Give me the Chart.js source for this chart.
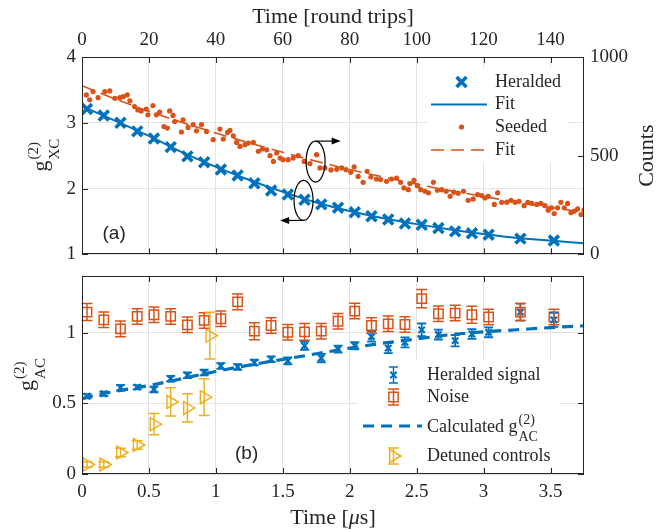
<!DOCTYPE html>
<html>
<head>
<meta charset="utf-8">
<title>g2 vs storage time</title>
<script src="https://cdn.jsdelivr.net/npm/chart.js@4.4.1/dist/chart.umd.min.js"></script>
<style>
  html, body { margin: 0; padding: 0; background: #ffffff; }
  #wrap { position: relative; width: 657px; height: 530px; }
  #wrap canvas { position: absolute; left: 0; }
</style>
</head>
<body>
<div id="wrap">
  <canvas id="panelA" width="657" height="265" style="top:0"></canvas>
  <canvas id="panelB" width="657" height="265" style="top:265px"></canvas>
</div>
<script>
// ---------- panel (a): heralded g2 and seeded counts vs round trips ----------
const heraldedRT = [1.5, 6.5, 11.5, 16.5, 21.5, 26.5, 31.5, 36.5, 41.5, 46.5, 51.5, 56.5, 61.5, 66.5,
  71.5, 76.5, 81.5, 86.5, 91.5, 96.5, 101.5, 106.5, 111.5, 116.5, 121.5, 131, 141];
const heraldedG2 = [3.21, 3.11, 3.00, 2.87, 2.76, 2.63, 2.49, 2.40, 2.29, 2.20, 2.08, 1.97, 1.91, 1.83,
  1.76, 1.71, 1.64, 1.58, 1.53, 1.47, 1.45, 1.40, 1.35, 1.32, 1.30, 1.24, 1.21];

const heraldedFitRT = [0, 10, 20, 30, 40, 50, 60, 70, 80, 90, 100, 110, 120, 130, 140, 150];
const heraldedFitG2 = [3.25, 3.03, 2.80, 2.55, 2.33, 2.13, 1.95, 1.79, 1.66, 1.55, 1.46, 1.38, 1.31, 1.25, 1.21, 1.17];

const seededRT = [1.3, 2.3, 3.3, 4.8, 6.8, 8.3, 9.8, 11.3, 12.3, 13.5, 14.3, 15.7, 16.7, 17.7, 19.2, 19.7,
  21.2, 22.2, 23.2, 24.5, 25.5, 26.2, 27.2, 27.7, 29.7, 30.2, 31.7, 33.2, 34.2, 35.7, 37.2, 39.2,
  41.2, 42.2, 43.5, 44.2, 45.2, 46.2, 47.2, 48.7, 49.7, 51.2, 52.7, 53.9, 55.2, 56.2, 57.2, 58.2,
  59.2, 60.1, 61.6, 63.1, 64.6, 66.4, 68.1, 70.1, 71.1, 72.6, 74.4, 76.1, 77.6, 78.9, 80.3, 81.3,
  82.5, 84, 85.2, 86.3, 88, 89.2, 91, 92.5, 94, 95.2, 96.2, 97.5, 98, 99.2, 100.2, 101.2, 102.5,
  103.5, 105, 106.2, 107.5, 108.8, 110, 111.1, 112.4, 114, 115.4, 116.9, 118.2, 119.4, 120.4, 121.4,
  123.2, 124.2, 125.4, 126.9, 128.2, 129.4, 130.6, 132.1, 133.2, 134.4, 135.9, 137.1, 138.3, 139.3,
  140.3, 141.1, 142.1, 143.1, 144.1, 145.1, 146.1, 147.1, 148.1, 149.1, 150];
const seededCounts = [808, 783, 825, 794, 825, 828, 791, 794, 799, 808, 778, 749, 732, 727, 736, 707,
  754, 707, 721, 648, 640, 727, 704, 673, 620, 682, 643, 657, 626, 657, 623, 581,
  635, 584, 618, 628, 601, 567, 547, 556, 564, 567, 522, 534, 530, 500, 471, 514,
  488, 480, 480, 488, 500, 471, 460, 505, 438, 438, 428, 431, 438, 429, 416, 443,
  395, 365, 421, 392, 382, 379, 370, 382, 387, 365, 337, 328, 359, 375, 348, 328, 320,
  312, 365, 325, 328, 320, 294, 315, 310, 320, 274, 281, 303, 298, 286, 294,
  253, 312, 264, 264, 274, 264, 269, 247, 264, 258, 253, 258, 247, 224,
  236, 207, 236, 264, 236, 258, 211, 219, 231, 202, 224];

const seededFitRT = [0, 10, 20, 30, 40, 50, 60, 70, 80, 90, 100, 110, 120, 130, 140, 150];
const seededFitCounts = [855, 787, 725, 668, 615, 565, 517, 472, 430, 392, 356, 323, 293, 265, 238, 214];

const topTicksRT = [0, 20, 40, 60, 80, 100, 120, 140];

// annotation anchors (data units)
const seededRing = { x: 69.8, y: 470, arrowTo: 77.3 };
const heraldedRing = { x: 66.2, y: 1.82, arrowTo: 59.2 };

// ---------- panel (b): g2_AC vs time in microseconds ----------
const pointTimes = [0.0375, 0.1625, 0.2875, 0.4125, 0.5375, 0.6625, 0.7875, 0.9125, 1.0375, 1.1625,
  1.2875, 1.4125, 1.5375, 1.6625, 1.7875, 1.9125, 2.0375, 2.1625, 2.2875, 2.4125, 2.5375, 2.6625,
  2.7875, 2.9125, 3.0375, 3.275, 3.525];
const signalG2 = [0.55, 0.567, 0.61, 0.614, 0.598, 0.674, 0.698, 0.717, 0.764, 0.757, 0.788, 0.812,
  0.80, 0.907, 0.82, 0.883, 0.907, 0.971, 0.89, 0.931, 1.019, 0.986, 0.943, 0.99, 1.002, 1.145, 1.09];
const signalErr = [0.015, 0.015, 0.02, 0.015, 0.02, 0.02, 0.02, 0.02, 0.02, 0.02, 0.02, 0.02, 0.025,
  0.03, 0.03, 0.025, 0.025, 0.035, 0.035, 0.035, 0.045, 0.035, 0.04, 0.035, 0.035, 0.06, 0.05];
const noiseG2 = [1.145, 1.09, 1.026, 1.114, 1.126, 1.114, 1.055, 1.086, 1.098, 1.217, 1.01, 1.05,
  1.002, 1.005, 1.01, 1.08, 1.152, 1.05, 1.062, 1.057, 1.24, 1.133, 1.138, 1.126, 1.11, 1.145, 1.11];
const noiseErr = [0.06, 0.055, 0.055, 0.055, 0.055, 0.055, 0.055, 0.055, 0.055, 0.055, 0.06, 0.055,
  0.055, 0.06, 0.055, 0.055, 0.055, 0.055, 0.055, 0.055, 0.065, 0.055, 0.055, 0.06, 0.055, 0.06, 0.055];

const calcTime = [0, 0.25, 0.5, 0.75, 1.0, 1.25, 1.5, 1.75, 2.0, 2.25, 2.5, 2.75, 3.0, 3.25, 3.5, 3.75];
const calcG2 = [0.535, 0.585, 0.625, 0.675, 0.725, 0.77, 0.81, 0.85, 0.89, 0.925, 0.955, 0.985, 1.005, 1.02, 1.035, 1.048];

const detunedTime = [0.0375, 0.1625, 0.2875, 0.4125, 0.5375, 0.6625, 0.7875, 0.9125, 0.955];
const detunedG2 = [0.067, 0.067, 0.152, 0.205, 0.352, 0.51, 0.467, 0.543, 0.979];
const detunedErr = [0.02, 0.02, 0.03, 0.03, 0.075, 0.1, 0.1, 0.13, 0.165];

// ---------- look ----------
const BLUE = '#0072BD', ORANGE = '#D95319', YELLOW = '#EDB120';
const INK = '#262626', GRID = '#e3e3e3';
const SERIF = '"Liberation Serif", "Times New Roman", serif';
const SANS = '"Liberation Sans", Arial, sans-serif';

Chart.defaults.font.family = SERIF;
Chart.defaults.font.size = 19;
Chart.defaults.color = INK;

const pts = (xs, ys) => xs.map((x, i) => ({ x: x, y: ys[i] }));
const numLabel = v => String(v);

// fixed axis boxes so the plot areas land where the figure has them
const fixWidth = w => s => { s.width = w; s.paddingTop = 0; s.paddingBottom = 0; };
const fixHeight = h => s => { s.height = h; s.paddingLeft = 0; s.paddingRight = 0; };

// helpers shared by both panels
function drawBox(chart) {
  const a = chart.chartArea, ctx = chart.ctx;
  ctx.save();
  ctx.strokeStyle = INK;
  ctx.lineWidth = 1;
  ctx.strokeRect(Math.round(a.left) + 0.5, Math.round(a.top) + 0.5,
    Math.round(a.right - a.left) - 1, Math.round(a.bottom - a.top) - 1);
  ctx.restore();
}

// MATLAB style ticks pointing into the plot
function drawTicks(chart, id, sides) {
  const s = chart.scales[id], a = chart.chartArea, ctx = chart.ctx, len = 6;
  ctx.save();
  ctx.strokeStyle = INK;
  ctx.lineWidth = 1;
  ctx.beginPath();
  s.ticks.forEach(t => {
    const p = Math.round(s.getPixelForValue(t.value)) + 0.5;
    sides.forEach(side => {
      if (side === 'top') { ctx.moveTo(p, a.top); ctx.lineTo(p, a.top + len); }
      if (side === 'bottom') { ctx.moveTo(p, a.bottom); ctx.lineTo(p, a.bottom - len); }
      if (side === 'left') { ctx.moveTo(a.left, p); ctx.lineTo(a.left + len, p); }
      if (side === 'right') { ctx.moveTo(a.right, p); ctx.lineTo(a.right - len, p); }
    });
  });
  ctx.stroke();
  ctx.restore();
}

function errorBar(ctx, x, yTop, yBot, cap) {
  ctx.moveTo(x, yTop); ctx.lineTo(x, yBot);
  ctx.moveTo(x - cap, yTop); ctx.lineTo(x + cap, yTop);
  ctx.moveTo(x - cap, yBot); ctx.lineTo(x + cap, yBot);
}

function drawErrorBars(chart) {
  const ctx = chart.ctx;
  chart.data.datasets.forEach((ds, i) => {
    if (!ds.errors) return;
    const meta = chart.getDatasetMeta(i);
    const xs = chart.scales[meta.xAxisID], ys = chart.scales[meta.yAxisID];
    ctx.save();
    ctx.strokeStyle = ds.borderColor;
    ctx.lineWidth = ds.errorWidth;
    ctx.beginPath();
    ds.data.forEach((p, k) => {
      errorBar(ctx, xs.getPixelForValue(p.x), ys.getPixelForValue(p.y + ds.errors[k]),
        ys.getPixelForValue(p.y - ds.errors[k]), ds.capHalf);
    });
    ctx.stroke();
    ctx.restore();
  });
}

function marker(ctx, style, rotation, radius, width, color, fill, x, y) {
  ctx.save();
  ctx.strokeStyle = color;
  ctx.fillStyle = fill;
  ctx.lineWidth = width;
  Chart.helpers.drawPoint(ctx, { pointStyle: style, rotation: rotation, radius: radius, borderWidth: width }, x, y);
  ctx.restore();
}

// g^(2)_sub, rotated for the y axis; x is the baseline, y the centre
function gLabel(ctx, x, y, sub, rotate) {
  ctx.save();
  ctx.translate(x, y);
  if (rotate) ctx.rotate(-Math.PI / 2);
  ctx.fillStyle = INK;
  ctx.textAlign = 'left';
  ctx.textBaseline = 'alphabetic';
  ctx.font = '22px ' + SERIF;
  const wg = ctx.measureText('g').width;
  ctx.font = '15px ' + SERIF;
  const ws = Math.max(ctx.measureText('(2)').width, ctx.measureText(sub).width);
  const x0 = -(wg + ws) / 2;
  ctx.font = '22px ' + SERIF;
  ctx.fillText('g', x0, 0);
  ctx.font = '15px ' + SERIF;
  ctx.fillText('(2)', x0 + wg + 1, -9);
  ctx.fillText(sub, x0 + wg + 1, 12);
  ctx.restore();
}

function text(ctx, str, x, y, font, align) {
  ctx.save();
  ctx.fillStyle = INK;
  ctx.font = font;
  ctx.textAlign = align || 'left';
  ctx.textBaseline = 'middle';
  ctx.fillText(str, x, y);
  ctx.restore();
}

function arrowHead(ctx, x, y, dir) {
  ctx.beginPath();
  ctx.moveTo(x, y);
  ctx.lineTo(x - dir * 9, y - 3.5);
  ctx.lineTo(x - dir * 9, y + 3.5);
  ctx.closePath();
  ctx.fill();
}

// ================= panel (a) =================
const panelAPlugin = {
  id: 'panelA',
  beforeDatasetsDraw(chart) {
    const ctx = chart.ctx;
    ctx.save();
    ctx.fillStyle = '#ffffff';
    ctx.fillRect(427, 68, 140, 94); // legend background
    ctx.restore();
  },
  afterDraw(chart) {
    const ctx = chart.ctx, sx = chart.scales.x, sy = chart.scales.y, sy2 = chart.scales.y2;
    drawBox(chart);
    drawTicks(chart, 'x', ['top', 'bottom']);
    drawTicks(chart, 'y', ['left']);
    drawTicks(chart, 'y2', ['right']);

    gLabel(ctx, 47, (chart.chartArea.top + chart.chartArea.bottom) / 2, 'XC', true);
    ctx.save();
    ctx.translate(647, (chart.chartArea.top + chart.chartArea.bottom) / 2);
    ctx.rotate(-Math.PI / 2);
    text(ctx, 'Counts', 0, 0, '22px ' + SERIF, 'center');
    ctx.restore();

    text(ctx, '(a)', sx.getPixelForValue(9.6), sy.getPixelForValue(1.32), '19px ' + SANS, 'center');

    // which-axis rings
    ctx.save();
    ctx.strokeStyle = '#000';
    ctx.fillStyle = '#000';
    ctx.lineWidth = 1.2;
    let cx = sx.getPixelForValue(seededRing.x), cy = sy2.getPixelForValue(seededRing.y);
    ctx.beginPath();
    ctx.ellipse(cx, cy, 9.5, 20.5, 0, 0, Math.PI * 2);
    ctx.stroke();
    let tip = sx.getPixelForValue(seededRing.arrowTo);
    ctx.beginPath();
    ctx.moveTo(cx, cy - 20.5);
    ctx.lineTo(tip - 4, cy - 20.5);
    ctx.stroke();
    arrowHead(ctx, tip, cy - 20.5, 1);

    cx = sx.getPixelForValue(heraldedRing.x); cy = sy.getPixelForValue(heraldedRing.y);
    ctx.beginPath();
    ctx.ellipse(cx, cy, 9.5, 20, 0, 0, Math.PI * 2);
    ctx.stroke();
    tip = sx.getPixelForValue(heraldedRing.arrowTo);
    ctx.beginPath();
    ctx.moveTo(cx, cy + 20);
    ctx.lineTo(tip + 4, cy + 20);
    ctx.stroke();
    arrowHead(ctx, tip, cy + 20, -1);
    ctx.restore();

    // legend
    const rows = [82, 104.5, 127, 150], mx = 461.5, lx0 = 431, lx1 = 487, tx = 495;
    marker(ctx, 'crossRot', 0, 7, 3.6, BLUE, BLUE, mx, rows[0]);
    ctx.save();
    ctx.strokeStyle = BLUE; ctx.lineWidth = 2;
    ctx.beginPath(); ctx.moveTo(lx0, rows[1]); ctx.lineTo(lx1, rows[1]); ctx.stroke();
    ctx.strokeStyle = ORANGE; ctx.lineWidth = 1.6; ctx.setLineDash([13, 7]);
    ctx.beginPath(); ctx.moveTo(lx0, rows[3]); ctx.lineTo(lx1, rows[3]); ctx.stroke();
    ctx.restore();
    marker(ctx, 'circle', 0, 2.6, 0, ORANGE, ORANGE, mx, rows[2]);
    const f = '18px ' + SERIF;
    text(ctx, 'Heralded', tx, rows[0], f);
    text(ctx, 'Fit', tx, rows[1], f);
    text(ctx, 'Seeded', tx, rows[2], f);
    text(ctx, 'Fit', tx, rows[3], f);
  }
};

new Chart(document.getElementById('panelA'), {
  type: 'scatter',
  data: {
    datasets: [
      { label: 'Heralded', data: pts(heraldedRT, heraldedG2), yAxisID: 'y',
        pointStyle: 'crossRot', pointRadius: 7, borderWidth: 3.6, borderColor: BLUE, backgroundColor: BLUE },
      { label: 'Fit', data: pts(heraldedFitRT, heraldedFitG2), yAxisID: 'y', showLine: true,
        pointRadius: 0, borderWidth: 2, borderColor: BLUE, cubicInterpolationMode: 'monotone' },
      { label: 'Seeded', data: pts(seededRT, seededCounts), yAxisID: 'y2',
        pointStyle: 'circle', pointRadius: 2.6, borderWidth: 0, backgroundColor: ORANGE, borderColor: ORANGE },
      { label: 'Fit', data: pts(seededFitRT, seededFitCounts), yAxisID: 'y2', showLine: true,
        pointRadius: 0, borderWidth: 1.6, borderDash: [13, 7], borderColor: ORANGE, cubicInterpolationMode: 'monotone' }
    ]
  },
  options: {
    responsive: false,
    animation: false,
    devicePixelRatio: 1,
    layout: { padding: { left: 0, right: 0, top: 0, bottom: 10 } },
    plugins: { legend: { display: false }, tooltip: { enabled: false } },
    scales: {
      x: {
        type: 'linear', position: 'top', min: 0, max: 150,
        afterBuildTicks: s => { s.ticks = topTicksRT.map(v => ({ value: v })); },
        ticks: { padding: 6, maxRotation: 0, autoSkip: false, callback: numLabel },
        grid: { color: GRID, drawTicks: false },
        border: { display: false },
        title: { display: true, text: 'Time [round trips]', font: { size: 22 }, padding: { top: 4, bottom: 0 } },
        afterFit: fixHeight(57)
      },
      y: {
        type: 'linear', position: 'left', min: 1, max: 4,
        ticks: { stepSize: 1, padding: 6, callback: numLabel },
        grid: { color: GRID, drawTicks: false },
        border: { display: false },
        afterFit: fixWidth(82)
      },
      y2: {
        type: 'linear', position: 'right', min: 0, max: 1000,
        ticks: { stepSize: 500, padding: 6, callback: numLabel },
        grid: { drawOnChartArea: false, drawTicks: false },
        border: { display: false },
        afterFit: fixWidth(73)
      }
    }
  },
  plugins: [panelAPlugin]
});

// ================= panel (b) =================
const panelBPlugin = {
  id: 'panelB',
  beforeDatasetsDraw(chart) {
    const ctx = chart.ctx;
    ctx.save();
    ctx.fillStyle = '#ffffff';
    ctx.fillRect(357, 95, 203, 108); // legend background
    ctx.restore();
  },
  afterDatasetsDraw(chart) {
    drawErrorBars(chart);
  },
  afterDraw(chart) {
    const ctx = chart.ctx, sx = chart.scales.x, sy = chart.scales.y, a = chart.chartArea;
    drawBox(chart);
    drawTicks(chart, 'x', ['bottom', 'top']);
    drawTicks(chart, 'y', ['left', 'right']);

    gLabel(ctx, 33, (a.top + a.bottom) / 2, 'AC', true);

    // x title with an italic mu
    ctx.save();
    ctx.fillStyle = INK;
    ctx.textBaseline = 'middle';
    const parts = [['Time [', ''], ['\u03bc', 'italic '], ['s]', '']];
    let w = 0;
    parts.forEach(p => { ctx.font = p[1] + '22px ' + SERIF; w += ctx.measureText(p[0]).width; });
    let x = (a.left + a.right) / 2 - w / 2;
    parts.forEach(p => {
      ctx.font = p[1] + '22px ' + SERIF;
      ctx.fillText(p[0], x, 253);
      x += ctx.measureText(p[0]).width;
    });
    ctx.restore();

    text(ctx, '(b)', sx.getPixelForValue(1.23), sy.getPixelForValue(0.145), '19px ' + SANS, 'center');

    // legend
    const rows = [110, 132, 161, 191], mx = 393.5, tx = 427;
    ctx.save();
    ctx.lineWidth = 1.5;
    ctx.strokeStyle = BLUE;
    ctx.beginPath(); errorBar(ctx, mx, rows[0] - 8, rows[0] + 8, 4.5); ctx.stroke();
    ctx.strokeStyle = ORANGE;
    ctx.beginPath(); errorBar(ctx, mx, rows[1] - 8, rows[1] + 8, 5.5); ctx.stroke();
    ctx.strokeStyle = YELLOW;
    ctx.beginPath(); errorBar(ctx, mx, rows[3] - 8, rows[3] + 8, 5.5); ctx.stroke();
    ctx.strokeStyle = BLUE; ctx.lineWidth = 3.2; ctx.setLineDash([11, 7]);
    ctx.beginPath(); ctx.moveTo(363, rows[2]); ctx.lineTo(422, rows[2]); ctx.stroke();
    ctx.restore();
    marker(ctx, 'crossRot', 0, 4.5, 2, BLUE, BLUE, mx, rows[0]);
    marker(ctx, 'rect', 0, 6.6, 1.5, ORANGE, 'rgba(0,0,0,0)', mx, rows[1]);
    marker(ctx, 'triangle', 90, 7.5, 1.5, YELLOW, 'rgba(0,0,0,0)', mx, rows[3]);

    const f = '18px ' + SERIF;
    text(ctx, 'Heralded signal', tx, rows[0], f);
    text(ctx, 'Noise', tx, rows[1], f);
    text(ctx, 'Detuned controls', tx, rows[3], f);
    ctx.save();
    ctx.fillStyle = INK;
    ctx.textBaseline = 'alphabetic';
    ctx.font = f;
    const base = rows[2] + 6;
    ctx.fillText('Calculated g', tx, base);
    const wc = ctx.measureText('Calculated g').width;
    ctx.font = '14px ' + SERIF;
    ctx.fillText('(2)', tx + wc + 1, base - 8);
    ctx.fillText('AC', tx + wc + 1, base + 9);
    ctx.restore();
  }
};

new Chart(document.getElementById('panelB'), {
  type: 'scatter',
  data: {
    datasets: [
      { label: 'Heralded signal', data: pts(pointTimes, signalG2), errors: signalErr,
        errorWidth: 1.8, capHalf: 4.5,
        pointStyle: 'crossRot', pointRadius: 4.5, borderWidth: 2.2, borderColor: BLUE, backgroundColor: BLUE },
      { label: 'Noise', data: pts(pointTimes, noiseG2), errors: noiseErr,
        errorWidth: 1.5, capHalf: 5.5,
        pointStyle: 'rect', pointRadius: 6.6, borderWidth: 1.5, borderColor: ORANGE, backgroundColor: 'rgba(0,0,0,0)' },
      { label: 'Calculated g2', data: pts(calcTime, calcG2), showLine: true,
        pointRadius: 0, borderWidth: 3.2, borderDash: [11, 7], borderColor: BLUE, cubicInterpolationMode: 'monotone' },
      { label: 'Detuned controls', data: pts(detunedTime, detunedG2), errors: detunedErr,
        errorWidth: 1.5, capHalf: 5.5,
        pointStyle: 'triangle', rotation: 90, pointRadius: 7.5, borderWidth: 1.5,
        borderColor: YELLOW, backgroundColor: 'rgba(0,0,0,0)' }
    ]
  },
  options: {
    responsive: false,
    animation: false,
    devicePixelRatio: 1,
    layout: { padding: { left: 0, right: 73, top: 11, bottom: 0 } },
    plugins: { legend: { display: false }, tooltip: { enabled: false } },
    scales: {
      x: {
        type: 'linear', position: 'bottom', min: 0, max: 3.75,
        ticks: { stepSize: 0.5, includeBounds: false, padding: 7, maxRotation: 0, autoSkip: false, callback: numLabel },
        grid: { color: GRID, drawTicks: false },
        border: { display: false },
        afterFit: fixHeight(56)
      },
      y: {
        type: 'linear', position: 'left', min: 0, max: 1.4,
        ticks: { stepSize: 0.5, includeBounds: false, padding: 6, callback: numLabel },
        grid: { color: GRID, drawTicks: false },
        border: { display: false },
        afterFit: fixWidth(82)
      }
    }
  },
  plugins: [panelBPlugin]
});
</script>
</body>
</html>
